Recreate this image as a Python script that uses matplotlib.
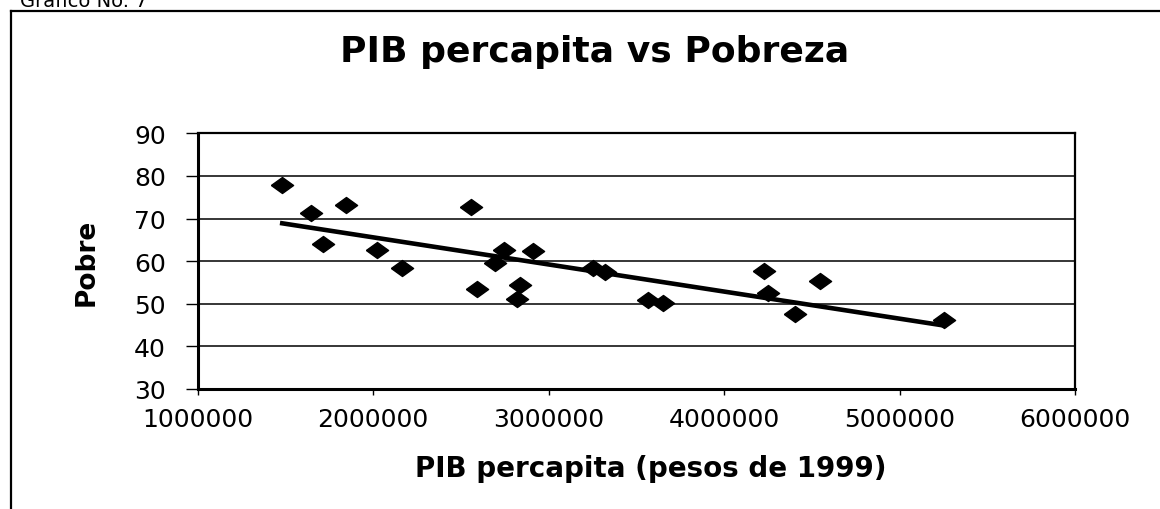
import numpy as np
import matplotlib
matplotlib.use("Agg")
import matplotlib.pyplot as plt
from matplotlib.lines import Line2D

# PIB percapita (pesos de 1999) vs % pobres
pib = [1482000, 1644000, 1844000, 1713000, 2021000, 2166000, 2556000,
       2594000, 2746000, 2695000, 2913000, 2838000, 2822000, 3255000,
       3322000, 3569000, 3654000, 4225000, 4253000, 4548000, 4405000,
       5255000]
pobre = [77.8, 71.4, 73.1, 64.0, 62.5, 58.3, 72.6, 53.5, 62.6, 59.5,
         62.4, 54.3, 51.2, 58.5, 57.4, 50.8, 50.2, 57.8, 52.6, 55.3,
         47.5, 46.3]

xticks = [1000000, 2000000, 3000000, 4000000, 5000000, 6000000]
yticks = [30, 40, 50, 60, 70, 80, 90]

plt.rcParams['font.family'] = ['DejaVu Sans']

fig = plt.figure(figsize=(11.6, 5.1), dpi=100)
ax = fig.add_axes([0.1704, 0.2353, 0.7563, 0.5014])

# flattened diamond marker like the excel one
diamond = [(-1, 0), (0, 0.72), (1, 0), (0, -0.72), (-1, 0)]
ax.plot(pib, pobre, linestyle='none', marker=diamond, markersize=16,
        color='black', zorder=3)

# linear trend line (excel style)
slope, inter = np.polyfit(pib, pobre, 1)
xs = np.array([min(pib), max(pib)])
ax.plot(xs, slope * xs + inter, color='black', lw=3.3, zorder=2)

ax.set_xlim(xticks[0], xticks[-1])
ax.set_ylim(yticks[0], yticks[-1])
ax.set_xticks(xticks)
ax.set_yticks(yticks)
ax.set_xticklabels([str(t) for t in xticks])
ax.grid(axis='y', color='black', lw=1.1)
ax.set_axisbelow(True)

ax.tick_params(axis='y', direction='out', length=9, width=1, pad=14,
               labelsize=18)
ax.tick_params(axis='x', direction='out', length=4, width=1, pad=9,
               labelsize=18)

for side in ['left', 'bottom']:
    ax.spines[side].set_linewidth(2.2)
for side in ['top', 'right']:
    ax.spines[side].set_linewidth(1.6)

fig.text(0.513, 0.898, 'PIB percapita vs Pobreza', ha='center', va='center',
         fontsize=26, fontweight='bold')
ax.set_xlabel('PIB percapita (pesos de 1999)', fontsize=20, fontweight='bold')
ax.xaxis.set_label_coords(0.516, -0.255)
ax.set_ylabel('Pobre', fontsize=19, fontweight='bold')
ax.yaxis.set_label_coords(-0.112, 0.5)

# cut-off caption and the outer frame of the scan
fig.text(20 / 1160, 1 - 7 / 510, 'Grafico No. 7', ha='left', va='baseline',
         fontsize=14)
fig.add_artist(Line2D([11 / 1160, 1.0], [1 - 12 / 510, 1 - 12 / 510],
                      color='black', lw=1.6))
fig.add_artist(Line2D([11 / 1160, 11 / 1160], [0.0, 1 - 12 / 510],
                      color='black', lw=1.6))

fig.savefig('out.png', dpi=100)
